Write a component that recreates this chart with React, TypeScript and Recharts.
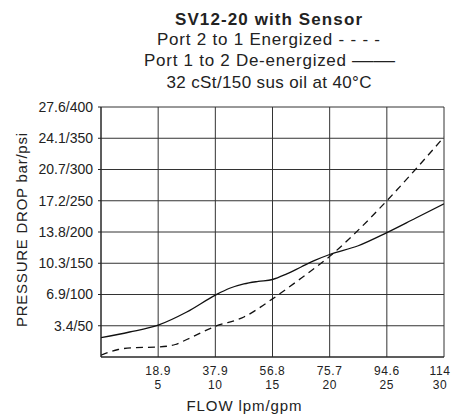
import React from 'react';
import { LineChart, Line, XAxis, YAxis, CartesianGrid } from 'recharts';

// Flow (gpm) and pressure drop (psi)
const solidFlowGpm = [0, 2.5, 5, 7.5, 10, 11.25, 12.5, 13.75, 15, 16.25, 17.5, 18.75, 20, 22.5, 25, 27.5, 30];
const solidPsi = [31, 40, 51, 72, 99, 110, 117, 121, 124, 133, 144, 155, 164, 178, 199, 222, 245];

const dashedFlowGpm = [0, 1.5, 3, 5, 6.5, 7.5, 10, 12.5, 15, 17.5, 20, 22.5, 25, 27.5, 30];
const dashedPsi = [3, 12, 15, 16, 20, 28, 49, 64, 93, 126, 161, 203, 250, 300, 352];

const xTickGpm = [5, 10, 15, 20, 25, 30];
const xTickLpm = ['18.9', '37.9', '56.8', '75.7', '94.6', '114'];
const yTickPsi = [50, 100, 150, 200, 250, 300, 350, 400];
const yTickBar = ['3.4', '6.9', '10.3', '13.8', '17.2', '20.7', '24.1', '27.6'];

const titleLines = [
  'SV12-20 with Sensor',
  'Port 2 to 1 Energized - - - -',
  'Port 1 to 2 De-energized',
  '——',
  '32 cSt/150 sus oil at 40°C',
];
const xAxisTitle = 'FLOW lpm/gpm';
const yAxisTitle = 'PRESSURE DROP bar/psi';

const solidData = solidFlowGpm.map((g, i) => ({ gpm: g, psi: solidPsi[i] }));
const dashedData = dashedFlowGpm.map((g, i) => ({ gpm: g, psi: dashedPsi[i] }));

const FONT = '"Liberation Sans", Arial, Helvetica, sans-serif';

const XTick = (props: any) => {
  const { x, y, payload } = props;
  const i = xTickGpm.indexOf(payload.value);
  const cx = Math.min(x, 440);
  return (
    <g>
      <text x={cx} y={y + 18} textAnchor="middle" fontSize={12} letterSpacing={0.6} fill="#222" fontFamily={FONT}>
        {xTickLpm[i]}
      </text>
      <text x={cx} y={y + 32} textAnchor="middle" fontSize={12} letterSpacing={0.6} fill="#222" fontFamily={FONT}>
        {String(payload.value)}
      </text>
    </g>
  );
};

const YTick = (props: any) => {
  const { x, y, payload } = props;
  const i = yTickPsi.indexOf(payload.value);
  return (
    <text x={x} y={y} dy="0.355em" textAnchor="end" fontSize={14} fill="#222" fontFamily={FONT}>
      {`${yTickBar[i]}/${payload.value}`}
    </text>
  );
};

export default function App() {
  return (
    <div style={{ position: 'absolute', left: 0, top: 0, width: 451, height: 414, background: '#fff' }}>
      <LineChart
        width={451}
        height={414}
        margin={{ top: 107, right: 7, bottom: 0, left: 0 }}
      >
        <CartesianGrid stroke="#333" strokeWidth={1} />
        <XAxis
          type="number"
          dataKey="gpm"
          domain={[0, 30]}
          ticks={xTickGpm}
          height={57}
          tickLine={false}
          tickSize={0}
          tickMargin={0}
          axisLine={{ stroke: '#222' }}
          tick={<XTick />}
          allowDataOverflow
        />
        <YAxis
          type="number"
          dataKey="psi"
          domain={[0, 400]}
          ticks={yTickPsi}
          width={101}
          tickSize={3}
          tickMargin={5}
          tickLine={{ stroke: '#222' }}
          axisLine={{ stroke: '#222' }}
          tick={<YTick />}
          allowDataOverflow
        />
        <Line
          data={dashedData}
          dataKey="psi"
          type="monotone"
          stroke="#111"
          strokeWidth={1.3}
          strokeDasharray="7 5"
          dot={false}
          isAnimationActive={false}
        />
        <Line
          data={solidData}
          dataKey="psi"
          type="monotone"
          stroke="#111"
          strokeWidth={1.3}
          dot={false}
          isAnimationActive={false}
        />
      </LineChart>
      <svg
        width={451}
        height={414}
        style={{ position: 'absolute', left: 0, top: 0, pointerEvents: 'none' }}
        fontFamily={FONT}
        fill="#222"
      >
        <text x={268.5} y={24.5} textAnchor="middle" fontSize={17} fontWeight="bold" textLength={187} lengthAdjust="spacing">
          {titleLines[0]}
        </text>
        <text x={268.5} y={44.5} textAnchor="middle" fontSize={17} textLength={223} lengthAdjust="spacing">
          {titleLines[1]}
        </text>
        <text x={144} y={65.5} textAnchor="start" fontSize={17} textLength={202} lengthAdjust="spacing">
          {titleLines[2]}
        </text>
        <text x={352} y={65.5} textAnchor="start" fontSize={17} textLength={43} lengthAdjust="spacingAndGlyphs">
          {titleLines[3]}
        </text>
        <text x={269} y={87.5} textAnchor="middle" fontSize={17} textLength={205} lengthAdjust="spacing">
          {titleLines[4]}
        </text>
        <text x={244} y={411} textAnchor="middle" fontSize={15} textLength={115} lengthAdjust="spacing">
          {xAxisTitle}
        </text>
        <text
          x={0}
          y={0}
          transform="translate(26.5 230) rotate(-90)"
          textAnchor="middle"
          fontSize={15}
          textLength={194}
          lengthAdjust="spacing"
        >
          {yAxisTitle}
        </text>
      </svg>
    </div>
  );
}
